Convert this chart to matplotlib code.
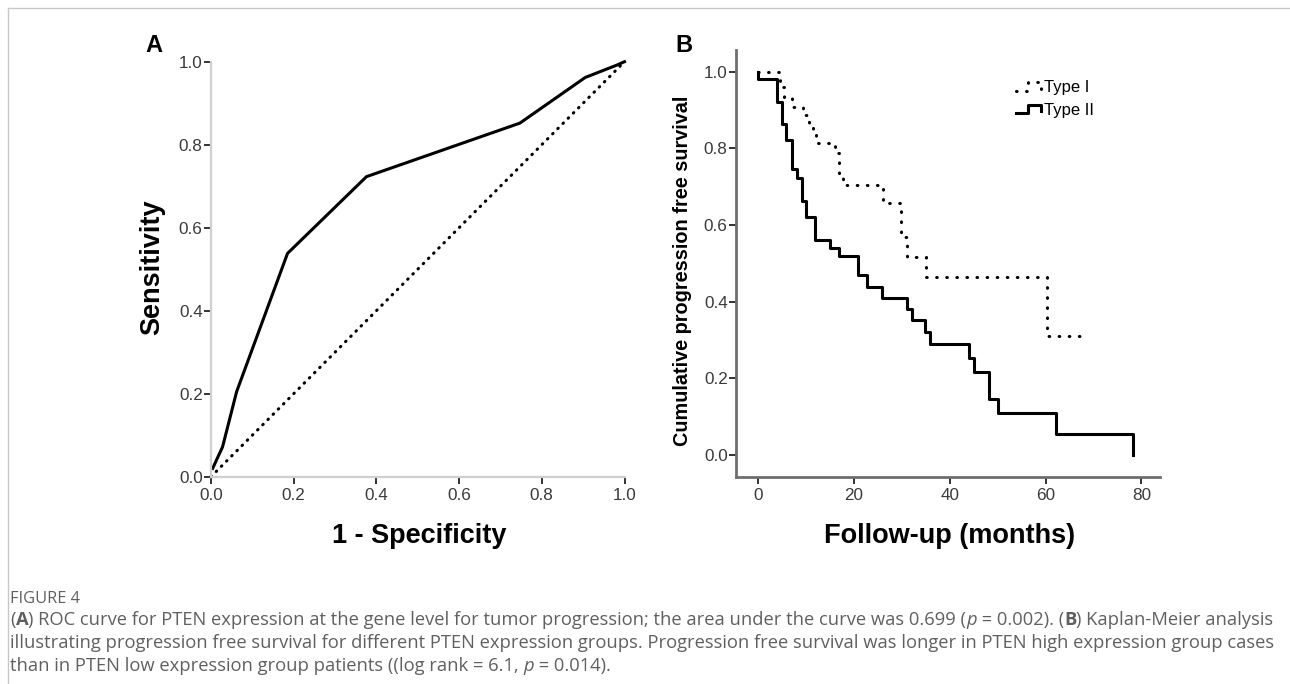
import numpy as np
import matplotlib
matplotlib.use('Agg')
import matplotlib.pyplot as plt
from matplotlib.lines import Line2D
from matplotlib.legend_handler import HandlerLine2D
from matplotlib import font_manager

# ---------------- data ----------------
roc_fpr = [0.004, 0.028, 0.062, 0.185, 0.376, 0.747, 0.905, 0.982, 1.0]
roc_tpr = [0.020, 0.072, 0.205, 0.538, 0.723, 0.852, 0.962, 0.992, 1.0]
ref_x = [0.0, 1.0]
ref_y = [0.0, 1.0]
roc_ticks = [0.0, 0.2, 0.4, 0.6, 0.8, 1.0]

type1_t = [0, 4.6, 5.3, 7.0, 9.4, 10.6, 11.4, 12.0, 16.0, 16.9, 17.7, 26.0, 29.9, 31.0, 35.0, 60.2, 68.6]
type1_s = [1.0, 0.961, 0.935, 0.909, 0.887, 0.861, 0.839, 0.813, 0.787, 0.726, 0.704, 0.657, 0.570, 0.517, 0.465, 0.310, 0.310]

type2_t = [0, 0, 3.8, 4.9, 5.8, 7.0, 8.0, 9.1, 10.0, 11.8, 15.0, 16.9, 20.8, 22.8, 25.9, 31.0, 32.0,
           34.8, 35.8, 44.0, 45.0, 48.2, 50.1, 62.2, 78.2]
type2_s = [1.0, 0.98, 0.922, 0.863, 0.822, 0.745, 0.722, 0.663, 0.622, 0.561, 0.539, 0.518, 0.470,
           0.439, 0.410, 0.382, 0.351, 0.322, 0.290, 0.254, 0.217, 0.145, 0.109, 0.054, 0.0]
km_xticks = [0, 20, 40, 60, 80]
km_yticks = [0.0, 0.2, 0.4, 0.6, 0.8, 1.0]
group_labels = ['Type I', 'Type II']

# ---------------- figure ----------------
W, H = 1290, 684
fig = plt.figure(figsize=(W / 100, H / 100), dpi=100)
fig.patch.set_facecolor('white')
CH = 'Liberation Sans'
_names = {f.name for f in font_manager.fontManager.ttflist}
if 'Liberation Sans Narrow' in _names:
    NARROW, TICKSIZE, LEGSIZE = 'Liberation Sans Narrow', 13.5, 13
else:
    NARROW, TICKSIZE, LEGSIZE = 'Liberation Sans', 12.3, 12


def px_rect(l, t, r, b):
    return [l / W, 1 - b / H, (r - l) / W, (b - t) / H]


def ftext(x, y, s, **kw):
    return fig.text(x / W, 1 - y / H, s, **kw)


# frame lines
fig.add_artist(Line2D([8 / W, 1], [1 - 8 / H, 1 - 8 / H], transform=fig.transFigure, color='#c8c8c8', lw=1))
fig.add_artist(Line2D([8 / W, 8 / W], [0, 1 - 8 / H], transform=fig.transFigure, color='#c8c8c8', lw=1))

# ---------------- panel A ----------------
axA = fig.add_axes(px_rect(211, 61.7, 624.5, 476.7))
axA.set_xlim(0, 1)
axA.set_ylim(0, 1)
axA.plot(roc_fpr, roc_tpr, color='black', lw=2.2, clip_on=False, solid_joinstyle='miter')
axA.plot(ref_x, ref_y, color='black', lw=2.2, linestyle=(0, (0.2, 2.2)), dash_capstyle='round', clip_on=False)
for s in ['top', 'right']:
    axA.spines[s].set_visible(False)
for s in ['left', 'bottom']:
    axA.spines[s].set_color('#cfcfcf')
    axA.spines[s].set_linewidth(1.6)
axA.set_xticks(roc_ticks)
axA.set_yticks(roc_ticks)
axA.set_xticklabels([f'{v:.1f}' for v in roc_ticks])
axA.set_yticklabels([f'{v:.1f}' for v in roc_ticks])
axA.tick_params(axis='both', direction='out', length=5, width=1.3, color='#222222',
                labelsize=TICKSIZE, labelcolor='#3a3a3a')
axA.tick_params(axis='y', pad=1)
axA.tick_params(axis='x', pad=3)
for lab in axA.get_xticklabels() + axA.get_yticklabels():
    lab.set_family(NARROW)
axA.patch.set_alpha(0)

ftext(154, 46, 'A', fontsize=17, fontweight='bold', family=CH, ha='center', va='center')
ftext(419, 536, '1 - Specificity', fontsize=19.5, fontweight='bold', family=CH, ha='center', va='center')
ftext(152, 267, 'Sensitivity', fontsize=19.5, fontweight='bold', family=CH, ha='center', va='center',
      rotation=90)

# ---------------- panel B ----------------
axB = fig.add_axes(px_rect(736, 50, 1160, 476.7))
axB.set_xlim(-4.66, 83.9)
axB.set_ylim(-0.0566, 1.0566)
l1, = axB.step(type1_t, type1_s, where='post', color='black', lw=2.2,
               linestyle=(0, (0.2, 3.1)), dash_capstyle='round', label=group_labels[0])
l2, = axB.step(type2_t, type2_s, where='post', color='black', lw=2.2, label=group_labels[1])
for s in ['top', 'right']:
    axB.spines[s].set_visible(False)
for s in ['left', 'bottom']:
    axB.spines[s].set_color('#6e6e6e')
    axB.spines[s].set_linewidth(2.0)
axB.set_xticks(km_xticks)
axB.set_yticks(km_yticks)
axB.set_yticklabels([f'{v:.1f}' for v in km_yticks])
axB.tick_params(axis='both', direction='out', length=5, width=1.3, color='#222222',
                labelsize=TICKSIZE, labelcolor='#3a3a3a')
axB.tick_params(axis='y', pad=1)
axB.tick_params(axis='x', pad=3)
for lab in axB.get_xticklabels() + axB.get_yticklabels():
    lab.set_family(NARROW)
axB.patch.set_alpha(0)


class HandlerStep(HandlerLine2D):
    def create_artists(self, legend, orig_handle, xdescent, ydescent, width, height, fontsize, trans):
        xs = np.array([0.0, 0.45, 0.45, 0.95, 0.95]) * width - xdescent
        ys = np.array([0.1, 0.1, 0.85, 0.85, 0.3]) * height - ydescent
        line = Line2D(xs, ys)
        self.update_prop(line, orig_handle, legend)
        line.set_transform(trans)
        return [line]


leg = axB.legend(handles=[l1, l2], labels=group_labels, loc='upper left',
                 bbox_to_anchor=(1016 / W, 1 - 80 / H), bbox_transform=fig.transFigure,
                 frameon=False, handlelength=1.6, handletextpad=0.1, labelspacing=0.45,
                 borderpad=0, borderaxespad=0,
                 prop={'family': NARROW, 'size': LEGSIZE},
                 handler_map={Line2D: HandlerStep()})

ftext(684, 45, 'B', fontsize=17, fontweight='bold', family=CH, ha='center', va='center')
ftext(950, 536, 'Follow-up (months)', fontsize=19.5, fontweight='bold', family=CH, ha='center', va='center')
ftext(683, 271, 'Cumulative progression free survival', fontsize=14.3, fontweight='bold', family=CH,
      ha='center', va='center', rotation=90)

# ---------------- caption ----------------
CAP = 'Open Sans'
CAPC = '#606060'
CAPS = 13.25
renderer = fig.canvas.get_renderer()


def rich_line(x, y, pieces):
    for s, kw in pieces:
        t = ftext(x, y, s, fontsize=CAPS, family=CAP, color=CAPC, va='baseline', ha='left', **kw)
        x += t.get_window_extent(renderer=renderer).width


ftext(10, 603, 'FIGURE 4', fontsize=11.8, family=CAP, color=CAPC, va='baseline', ha='left')
rich_line(10, 625, [('(', {}), ('A', {'fontweight': 'bold'}),
                    (') ROC curve for PTEN expression at the gene level for tumor progression; the area under the curve was 0.699 (', {}),
                    ('p', {'fontstyle': 'italic'}), (' = 0.002). (', {}), ('B', {'fontweight': 'bold'}),
                    (') Kaplan-Meier analysis', {})])
rich_line(10, 648, [('illustrating progression free survival for different PTEN expression groups. Progression free survival was longer in PTEN high expression group cases', {})])
rich_line(10, 671, [('than in PTEN low expression group patients ((log rank = 6.1, ', {}),
                    ('p', {'fontstyle': 'italic'}), (' = 0.014).', {})])

fig.savefig('out.png', dpi=100)
